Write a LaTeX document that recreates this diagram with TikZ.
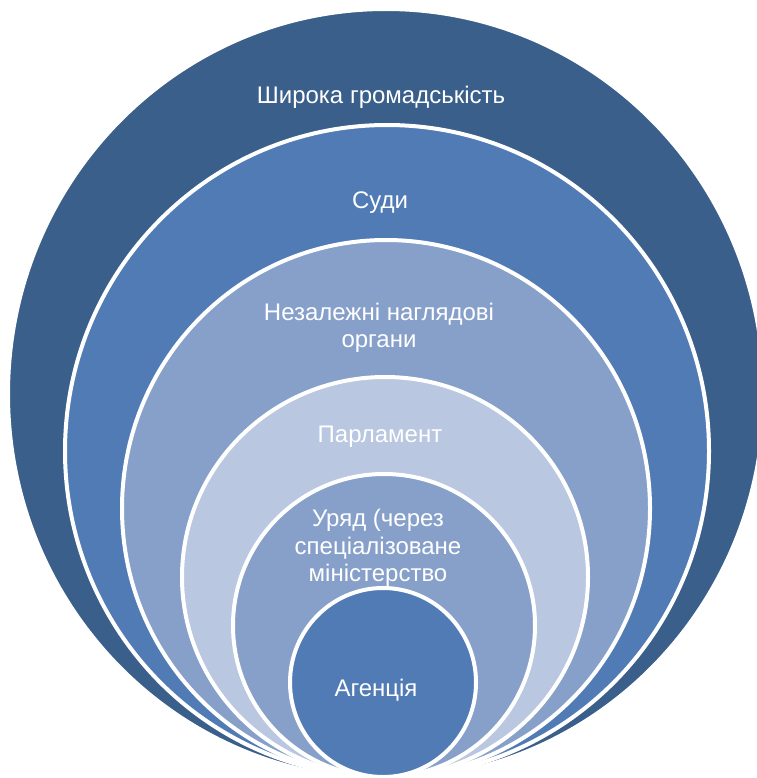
\documentclass[tikz,border=0pt]{standalone}
\usepackage{fontspec}
\setmainfont{Liberation Sans}
\usetikzlibrary{shapes.geometric}
\definecolor{ringA}{RGB}{58,95,138}
\definecolor{ringB}{RGB}{81,123,181}
\definecolor{ringC}{RGB}{134,160,202}
\definecolor{ringD}{RGB}{185,199,224}
\definecolor{ringE}{RGB}{134,160,202}
\definecolor{ringF}{RGB}{81,123,181}

\begin{document}
\begin{tikzpicture}[x=1pt,y=-1pt,
        ring/.style={ellipse,draw=white,line width=4pt,inner sep=0pt},
        lbl/.style={text=white,align=center,font=\fontsize{24}{27.5}\selectfont}]
        \useasboundingbox (0,0) rectangle (756,778);

        % nested rings, all touching at the bottom
        \node[ring,fill=ringA,minimum width=756pt,minimum height=770pt] (c1) at (386,394) {};
        \node[ring,fill=ringB,minimum width=644pt,minimum height=652pt] (c2) at (387,451) {};
        \node[ring,fill=ringC,minimum width=528pt,minimum height=537pt] (c3) at (386,508.5) {};
        \node[ring,fill=ringD,minimum width=406pt,minimum height=400pt] (c4) at (385,577) {};
        \node[ring,fill=ringE,minimum width=302pt,minimum height=303pt] (c5) at (384,625.5) {};
        \node[ring,fill=ringF,minimum width=186pt,minimum height=189pt] (c6) at (383,682.5) {};

        \node[lbl] (t1) at (381,97) {Широка громадськість};
        \node[lbl] (t2) at (380,203) {Суди};
        \node[lbl] (t3) at (379,328) {Незалежні наглядові\\органи};
        \node[lbl] (t4) at (380,437) {Парламент};
        \node[lbl] (t5) at (378,548) {Уряд (через\\спеціалізоване\\міністерство};
        \node[lbl] (t6) at (376,690) {Агенція};

    \end{tikzpicture}
\end{document}
